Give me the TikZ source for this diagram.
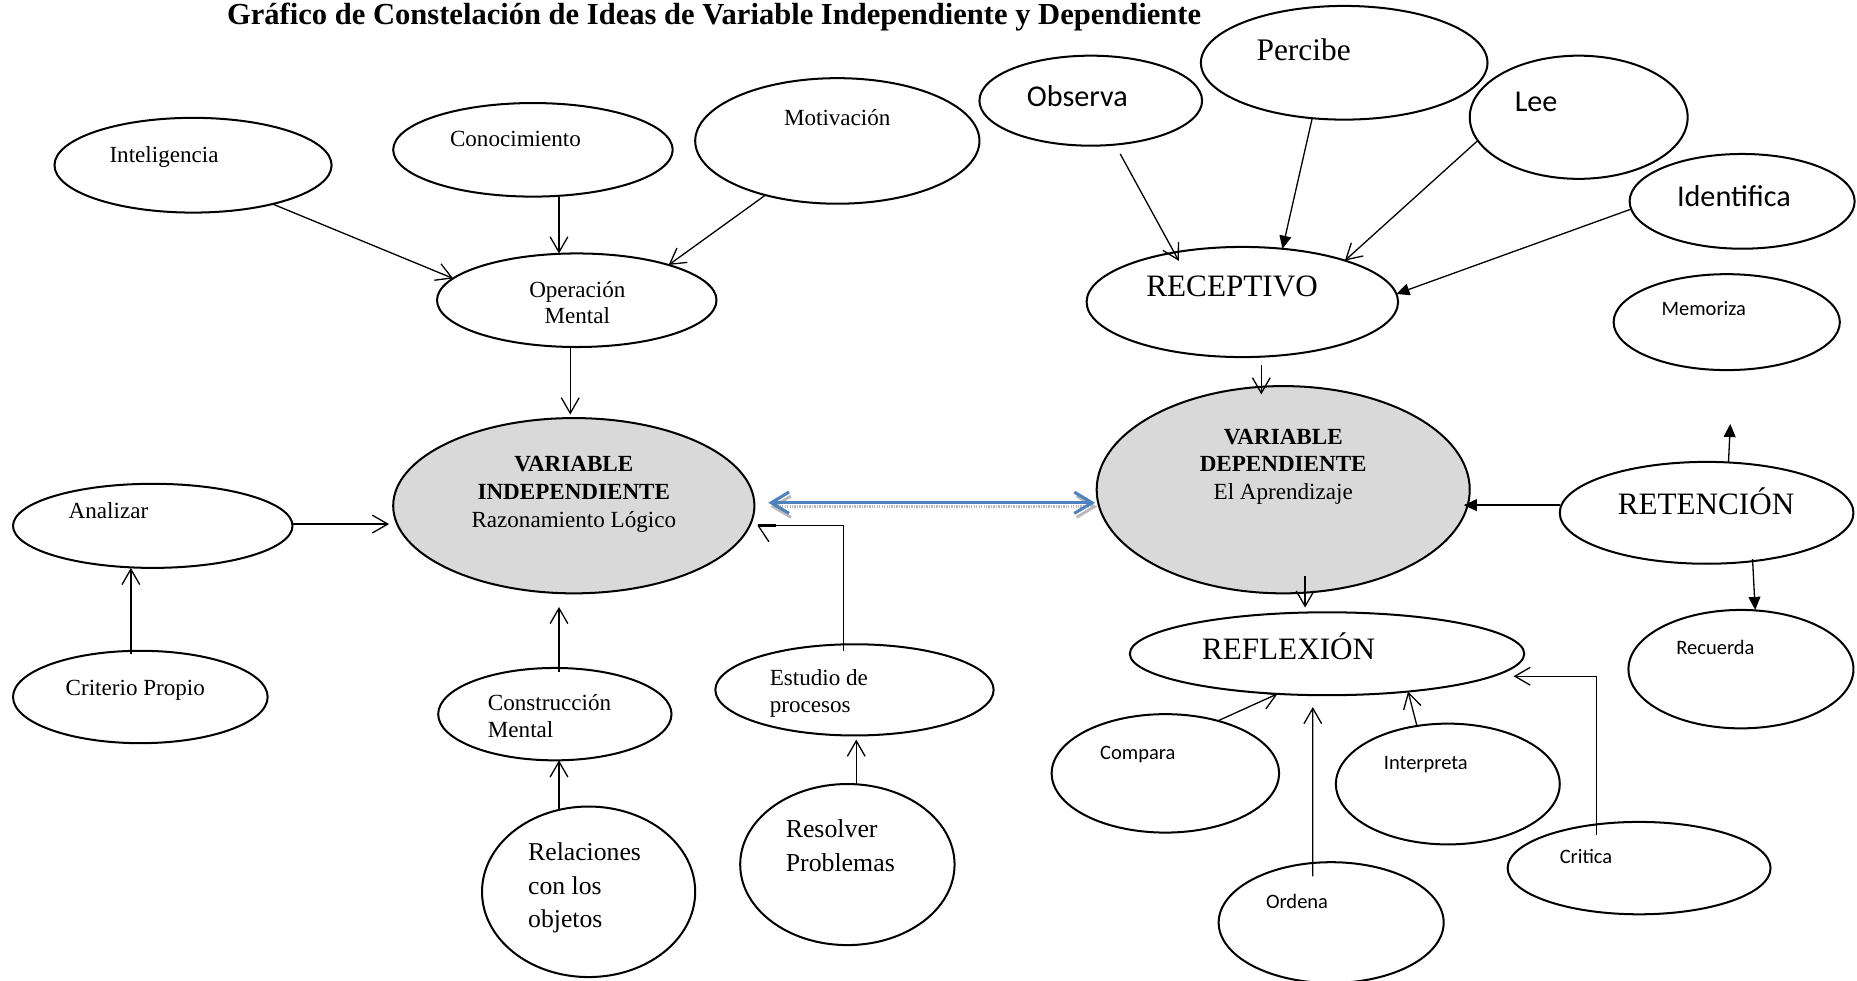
\documentclass[tikz,border=0pt]{standalone}
\usepackage{fontspec}
\setmainfont{Liberation Serif}
\newfontfamily\calib{Carlito}
\usetikzlibrary{shapes.geometric,arrows.meta,calc}
\definecolor{vgray}{HTML}{D9D9D9}
\definecolor{vblue}{HTML}{4F81BD}
\tikzset{
  bub/.style={ellipse, draw, line width=1.7pt, inner sep=0pt, outer sep=0pt},
  varbub/.style={bub, fill=vgray},
  lab/.style={inner sep=0pt, outer sep=0pt, font=\fontsize{19.5}{23.5}\selectfont},
  biglab/.style={inner sep=0pt, outer sep=0pt, font=\fontsize{26.3}{30}\selectfont},
  sanslab/.style={inner sep=0pt, outer sep=0pt, font=\calib\fontsize{25.5}{30}\selectfont},
  smallsans/.style={inner sep=0pt, outer sep=0pt, font=\calib\fontsize{17.3}{21}\selectfont},
  arr/.style={line width=1.1pt, -{Straight Barb[length=13pt,width=15pt,line width=1.1pt]}},
  farr/.style={line width=1.1pt, -{Triangle[length=11pt,width=10pt]}},
  plainline/.style={line width=1.1pt},
  dblarrow/.style={line width=2.6pt, draw=vblue, {Straight Barb[length=15pt,width=18pt,line width=2.6pt]}-{Straight Barb[length=15pt,width=18pt,line width=2.6pt]}},
  dblshadow/.style={line width=2.4pt, draw=gray!55, dash pattern=on 1.2pt off 0.9pt, {Straight Barb[length=15pt,width=18pt,line width=2.4pt]}-{Straight Barb[length=15pt,width=18pt,line width=2.4pt]}}
}
\begin{document}
\begin{tikzpicture}[x=1pt,y=-1pt]
\useasboundingbox (0,0) rectangle (1568,828);

% title
\node[inner sep=0pt, anchor=base, font=\bfseries\fontsize{25.8}{30}\selectfont] (title) at (603,20.5) {Gráfico de Constelación de Ideas de Variable Independiente y Dependiente};

% ---------- left side ellipses ----------
\node[bub, minimum width=234pt, minimum height=80pt] (intel) at (163,139.5) {};
\node[bub, minimum width=236pt, minimum height=79pt] (con) at (450,126.5) {};
\node[bub, minimum width=240pt, minimum height=106pt] (mot) at (707,119) {};
\node[bub, minimum width=236pt, minimum height=79pt] (oper) at (487,253.5) {};
\node[varbub, minimum width=305pt, minimum height=148pt] (vi) at (484.5,427) {};
\node[bub, minimum width=236pt, minimum height=71pt] (anal) at (129,444) {};
\node[bub, minimum width=215pt, minimum height=78pt] (crit) at (118.5,588.5) {};
\node[bub, minimum width=197pt, minimum height=78pt] (const) at (468.5,603) {};
\node[bub, minimum width=235pt, minimum height=77pt] (estud) at (721.5,582.5) {};
\node[bub, minimum width=180pt, minimum height=144pt] (relac) at (497,753) {};
\node[bub, minimum width=181pt, minimum height=136pt] (resol) at (715.5,730) {};

% ---------- right side ellipses ----------
\node[bub, minimum width=188pt, minimum height=76pt] (obs) at (921,85) {};
\node[bub, minimum width=242pt, minimum height=96pt] (perc) at (1135,53) {};
\node[bub, minimum width=184pt, minimum height=104pt] (lee) at (1333,99) {};
\node[bub, minimum width=190pt, minimum height=80pt] (ident) at (1471,170) {};
\node[bub, minimum width=263pt, minimum height=93pt] (recep) at (1049,255) {};
\node[bub, minimum width=191pt, minimum height=81pt] (memo) at (1458,272) {};
\node[varbub, minimum width=315pt, minimum height=175pt] (vd) at (1083.5,413.5) {};
\node[bub, minimum width=248pt, minimum height=86pt] (reten) at (1441,433) {};
\node[bub, minimum width=190pt, minimum height=100pt] (recu) at (1470,565) {};
\node[bub, minimum width=333pt, minimum height=70pt] (refl) at (1120.5,552) {};
\node[bub, minimum width=192pt, minimum height=100pt] (comp) at (984,653) {};
\node[bub, minimum width=189pt, minimum height=102pt] (interp) at (1222.5,662) {};
\node[bub, minimum width=222pt, minimum height=78pt] (critica) at (1384,733) {};
\node[bub, minimum width=190pt, minimum height=102pt] (ordena) at (1124,779) {};

% ---------- texts (multi-line nodes: base = last line) ----------
\node[lab, anchor=base west] (tintel) at (92.5,137.4) {Inteligencia};
\node[lab, anchor=base west] (tcon) at (380,124) {Conocimiento};
\node[lab, anchor=base west] (tmot) at (662,106) {Motivación};
\node[lab, anchor=base, align=center, font=\fontsize{19.5}{21.5}\selectfont] (toper) at (487.5,273) {Operación\\Mental};
\node[lab, anchor=base, align=center] (tvi) at (484.5,445.5) {\textbf{VARIABLE}\\\textbf{INDEPENDIENTE}\\Razonamiento Lógico};
\node[lab, anchor=base west] (tanal) at (58,438) {Analizar};
\node[lab, anchor=base west] (tcrit) at (55.5,587) {Criterio Propio};
\node[lab, anchor=base west, align=left] (tconst) at (412,623) {Construcción\\Mental};
\node[lab, anchor=base west, align=left, font=\fontsize{19.5}{23}\selectfont] (testud) at (650,602) {Estudio de\\procesos};
\node[lab, anchor=base west, align=left, font=\fontsize{21.7}{28.3}\selectfont] (trelac) at (446,783.5) {Relaciones\\con los\\objetos};
\node[lab, anchor=base west, align=left, font=\fontsize{21.8}{29}\selectfont] (tresol) at (663.5,736) {Resolver\\Problemas};

\node[sanslab, anchor=base west] (tobs) at (867,90) {Observa};
\node[biglab, anchor=base west, font=\fontsize{26.5}{30}\selectfont] (tperc) at (1061,51) {Percibe};
\node[sanslab, anchor=base west] (tlee) at (1279,94.5) {Lee};
\node[sanslab, anchor=base west] (tident) at (1416,174.5) {Identifica};
\node[biglab, anchor=base west] (trecep) at (968,250.5) {RECEPTIVO};
\node[smallsans, anchor=base west] (tmemo) at (1403,266) {Memoriza};
\node[lab, anchor=base, align=center, font=\fontsize{19.5}{23}\selectfont] (tvd) at (1083.5,421.5) {\textbf{VARIABLE}\\\textbf{DEPENDIENTE}\\El Aprendizaje};
\node[biglab, anchor=base west] (treten) at (1366,434.5) {RETENCIÓN};
\node[smallsans, anchor=base west] (trecu) at (1415.5,552.5) {Recuerda};
\node[biglab, anchor=base west] (trefl) at (1015,557) {REFLEXIÓN};
\node[smallsans, anchor=base west] (tcomp) at (929,641) {Compara};
\node[smallsans, anchor=base west] (tinterp) at (1168.5,650) {Interpreta};
\node[smallsans, anchor=base west] (tcritica) at (1317,729.5) {Critica};
\node[smallsans, anchor=base west] (tordena) at (1069,767) {Ordena};

% ---------- connectors, left ----------
\draw[arr] (intel.-26.6) -- (oper.170.7);
\draw[arr] ([xshift=22pt]con.south) -- ([xshift=-15pt]oper.north);
\draw[arr] (mot.-143.1) -- (oper.21.2);
\draw[arr, shorten >=3pt] ([xshift=-5.5pt]oper.south) -- ([xshift=-3pt]vi.north);
\draw[arr, shorten >=3.5pt] ([yshift=1.5pt]anal.east) -- ([yshift=1.5pt]anal.east -| vi.west);
\draw[arr, shorten <=-2.5pt] ([xshift=-8pt]crit.north) -- ([xshift=-18.5pt]anal.south);
\draw[arr, shorten <=-3.5pt, shorten >=11.5pt] ([xshift=3.5pt]const.north) -- ([xshift=-12.5pt]vi.south);
\draw[arr, shorten <=-4pt] ([xshift=-25pt]relac.north) -- ([xshift=3.5pt]const.south);
\draw[arr, shorten >=3.5pt] ([xshift=7.5pt]resol.north) -- ([xshift=1.5pt]estud.south);
\coordinate (estTip) at ($(vi.east)+(3,16.5)$);
\draw[plainline, shorten <=-5.5pt] ([xshift=-9pt]estud.north) |- (estTip);
\draw[line width=2.2pt] (estTip) -- ++(15.5,0);
\draw[plainline] (estTip) -- ++(9.3,14);

% ---------- double arrow ----------
\draw[dblshadow] ($(vi.east)+(13.5,0.8)$) -- ($(vd.west)+(0.4,14.3)$);
\draw[dblarrow] ($(vi.east)+(11.7,-2.5)$) -- ($(vd.west)+(-1.4,11)$);

% ---------- connectors, right ----------
\draw[arr, shorten <=9pt, shorten >=-8pt] (obs.-61) -- (recep.144.1);
\draw[farr] (perc.-120.5) -- (recep.53.4);
\draw[arr] (lee.-167) -- (recep.22.9);
\draw[farr] (ident.-176.7) -- (recep.3.2);
\draw[arr, shorten <=7pt, shorten >=-7pt] ([xshift=16pt]recep.south) -- ([xshift=-18.5pt]vd.north);
\draw[arr, shorten <=-15pt, shorten >=4pt] ([xshift=18.5pt]vd.south) -- ([xshift=-18.5pt]refl.north);
\draw[farr, shorten >=-5pt] ([yshift=6.5pt]reten.west) -- ([yshift=6.5pt]reten.west -| vd.east);
\coordinate (retUp) at (1461,358);
\draw[farr] ([xshift=18.5pt]reten.north) -- (retUp);
\draw[farr, shorten <=-4pt] ([xshift=39pt]reten.south) -- ([xshift=12pt]recu.north);
\draw[arr] (comp.45.2) -- (refl.-141.9);
\draw[arr, shorten <=-12pt, shorten >=10pt] ([xshift=-15.6pt]ordena.north) -- ([xshift=-12pt]refl.south);
\draw[arr] (interp.118.8) -- (refl.-25.2);
\draw[arr, shorten <=-11pt] ([xshift=-36pt]critica.north) |- ($(refl.east)+(-9,19)$);
\end{tikzpicture}
\end{document}
